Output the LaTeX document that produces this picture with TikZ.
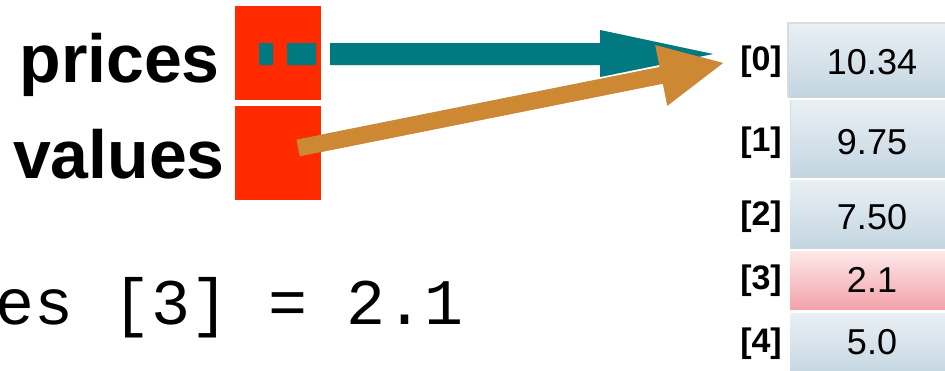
\documentclass[tikz,border=0pt]{standalone}
\usepackage{fontspec}
\setmainfont{Liberation Sans}
\newfontfamily\codefont{Liberation Mono}
\usetikzlibrary{calc}
\definecolor{boxred}{HTML}{FF2A00}
\definecolor{arrowteal}{HTML}{007A80}
\definecolor{arroworange}{HTML}{CC8833}
\definecolor{celltop}{HTML}{EAF0F4}
\definecolor{cellbot}{HTML}{C3D5E1}
\definecolor{pinktop}{HTML}{FDE8EA}
\definecolor{pinkbot}{HTML}{F3A2AA}
\definecolor{cellline}{HTML}{D9DCDE}
\tikzset{
  redbox/.style={fill=boxred, draw=none, inner sep=0pt, minimum width=86pt, minimum height=94pt, anchor=north west},
  lbl/.style={font=\fontsize{68}{80}\selectfont\bfseries, inner sep=0pt},
  idx/.style={font=\fontsize{34}{40}\selectfont\bfseries, inner sep=0pt, anchor=east},
  val/.style={font=\fontsize{36}{42}\selectfont, inner sep=0pt},
  bluecell/.style={draw=none, inner sep=0pt, minimum width=166pt, anchor=north west, top color=celltop, bottom color=cellbot},
  pinkcell/.style={draw=none, inner sep=0pt, minimum width=166pt, anchor=north west, top color=pinktop, bottom color=pinkbot},
  arrowshadow/.style={fill=black, fill opacity=0.10, draw=none}
}
\begin{document}
\begin{tikzpicture}[x=1pt,y=-1pt]
\useasboundingbox (0,0) rectangle (945,370);
\clip (0,0) rectangle (945,370);

% labels
\node[lbl, anchor=base east] (plabel) at (220,82) {prices};
\node[lbl, anchor=base east] (vlabel) at (225,178) {values};

% variable boxes
\node[redbox] (pbox) at (235,6) {};
\node[redbox] (vbox) at (235,106) {};

% code line
\node[anchor=base west, inner sep=0pt, font=\codefont\fontsize{65}{70}\selectfont] (code) at (-5,324) {es [3] = 2.1};

% array cells
\node[bluecell, minimum height=74pt] (c0) at (788,23) {};
\node[bluecell, minimum height=77pt] (c1) at (790,100) {};
\node[bluecell, minimum height=68pt] (c2) at (790,180) {};
\node[pinkcell, minimum height=58pt] (c3) at (790,251) {};
\node[bluecell, minimum height=64pt] (c4) at (790,313) {};
\draw[cellline, line width=1.5pt] (c0.south west) -- (c0.north west) -- (c0.north east);
\draw[cellline, line width=1pt] (c1.south west) -- (c1.north west);

\node[val] (v0) at (872,62) {10.34};
\node[val] (v1) at (872,142) {9.75};
\node[val] (v2) at (872,217) {7.50};
\node[val] (v3) at (872,280) {2.1};
\node[val] (v4) at (872,342) {5.0};

\node[idx] (i0) at (782,62) {[0]};
\node[idx] (i1) at (782,143) {[1]};
\node[idx] (i2) at (782,217) {[2]};
\node[idx] (i3) at (782,281) {[3]};
\node[idx] (i4) at (782,344) {[4]};

% teal pointer arrow (prices -> [0])
\coordinate (ps) at (330,54);
\coordinate (pt) at (713,54);
\newcommand\tealarrowpath{
  ($(ps)+(0,-11)$) -- ($(pt)+(-113,-11)$) -- ($(pt)+(-113,-24)$) -- (pt)
  -- ($(pt)+(-113,23)$) -- ($(pt)+(-113,11)$) -- ($(ps)+(0,11)$) -- cycle
  ($(ps)+(-71,-11)$) rectangle ($(ps)+(-57,11)$)
  ($(ps)+(-43,-11)$) rectangle ($(ps)+(-14,11)$)
}
\begin{scope}[shift={(2,4)}]
  \fill[arrowshadow] \tealarrowpath;
\end{scope}
\begin{scope}[shift={(1,2)}]
  \fill[arrowshadow] \tealarrowpath;
\end{scope}
\fill[arrowteal] \tealarrowpath;

% orange pointer arrow (values -> [0])
\coordinate (vs) at (298,148);
\coordinate (vt) at (723,63);
\coordinate (vb) at ($(vt)!63pt!(vs)$);
\newcommand\orangearrowpath{
  ($(vs)!8.5pt!90:(vt)$) -- ($(vb)!8.5pt!-90:(vs)$) -- ($(vb)!31pt!-90:(vs)$)
  -- (vt) -- ($(vb)!31pt!90:(vs)$) -- ($(vb)!8.5pt!90:(vs)$)
  -- ($(vs)!8.5pt!-90:(vt)$) -- cycle
}
\begin{scope}[shift={(2,5)}]
  \fill[arrowshadow] \orangearrowpath;
\end{scope}
\begin{scope}[shift={(1,2.5)}]
  \fill[arrowshadow] \orangearrowpath;
\end{scope}
\fill[arroworange] \orangearrowpath;
\end{tikzpicture}
\end{document}
